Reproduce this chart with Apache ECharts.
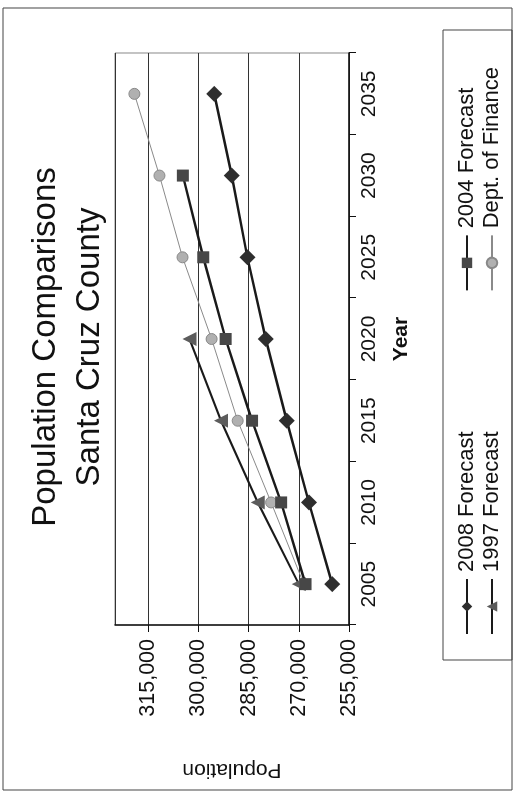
<!DOCTYPE html>
<html><head><meta charset="utf-8">
<script src="https://cdn.jsdelivr.net/npm/echarts@6/dist/echarts.min.js"></script>
<style>
html,body{margin:0;padding:0;width:515px;height:805px;overflow:hidden;background:#fff;}
#chart{position:absolute;left:0;top:0;width:805px;height:515px;transform-origin:0 0;transform:translate(0,805px) rotate(-90deg);}
</style></head><body><div id="chart"></div>
<script>
const years = ['2005', '2010', '2015', '2020', '2025', '2030', '2035'];
const forecast2008 = [260000, 267000, 273600, 279900, 285400, 290100, 295300];
const forecast2004 = [268000, 275300, 284000, 291900, 298600, 304700, null];
const forecast1997 = [270000, 282300, 293300, 302700, null, null, null];
const deptFinance = [268500, 278300, 288300, 296100, 304800, 311700, 319200];
const titleLines = ['Population Comparisons', 'Santa Cruz County'];

const FONT = '"Liberation Sans", Arial, sans-serif';
const chart = echarts.init(document.getElementById('chart'), null, {renderer: 'canvas'});
const fmt = v => v.toLocaleString('en-US');

chart.setOption({
  animation: false,
  backgroundColor: '#fff',
  textStyle: {fontFamily: FONT},
  grid: {left: 180, right: 53, top: 115, bottom: 166, show: true, borderColor: '#888', borderWidth: 1, backgroundColor: 'transparent'},
  graphic: [
    {type: 'rect', shape: {x: 15, y: 3, width: 782, height: 509}, style: {fill: 'none', stroke: '#444', lineWidth: 1}},
    {type: 'rect', shape: {x: 145, y: 443, width: 630, height: 69}, style: {fill: 'none', stroke: '#444', lineWidth: 1}},
    {type: 'text', x: 458, y: 46, style: {text: titleLines[0], fontSize: 33, fontFamily: FONT, fill: '#111', align: 'center', verticalAlign: 'middle'}},
    {type: 'text', x: 458, y: 90, style: {text: titleLines[1], fontSize: 33, fontFamily: FONT, fill: '#111', align: 'center', verticalAlign: 'middle'}}
  ],
  legend: [
    {data: ['2008 Forecast', '2004 Forecast'], left: 165, top: 451, itemGap: 140, itemWidth: 55, itemHeight: 13,
     textStyle: {fontSize: 22, color: '#111', fontFamily: FONT, padding: [0, 0, 0, 2]}},
    {data: ['1997 Forecast', 'Dept. of Finance'], left: 165, top: 476, itemGap: 140, itemWidth: 55, itemHeight: 13,
     textStyle: {fontSize: 22, color: '#111', fontFamily: FONT, padding: [0, 0, 0, 2]}}
  ],
  xAxis: {
    type: 'category', data: years, boundaryGap: true,
    name: 'Year', nameLocation: 'middle', nameGap: 42,
    nameTextStyle: {fontSize: 21, fontWeight: 'bold', color: '#111', fontFamily: FONT},
    axisLine: {lineStyle: {color: '#111', width: 1.5}},
    axisTick: {show: true, length: 7, interval: 0, lineStyle: {color: '#111'}},
    axisLabel: {fontSize: 21, color: '#111', margin: 10, interval: 0, fontFamily: FONT}
  },
  yAxis: {
    type: 'value', min: 255000, max: 325000, interval: 15000,
    name: 'Population', nameLocation: 'middle', nameGap: 134,
    nameTextStyle: {fontSize: 21, color: '#111', fontFamily: FONT},
    axisLine: {show: true, lineStyle: {color: '#111', width: 1.5}},
    axisTick: {show: true, length: 7, lineStyle: {color: '#111'}},
    axisLabel: {fontSize: 21.5, color: '#111', margin: 14, showMaxLabel: false, formatter: fmt, fontFamily: FONT},
    splitLine: {show: true, lineStyle: {color: '#333', width: 1}}
  },
  series: [
    {name: '2008 Forecast', type: 'line', data: forecast2008, symbol: 'diamond', symbolSize: 16,
     itemStyle: {color: '#2e2e2e'}, lineStyle: {color: '#1a1a1a', width: 2.5}, z: 4},
    {name: '2004 Forecast', type: 'line', data: forecast2004, symbol: 'rect', symbolSize: 12,
     itemStyle: {color: '#474747'}, lineStyle: {color: '#1a1a1a', width: 2.5}, z: 3},
    {name: '1997 Forecast', type: 'line', data: forecast1997, symbol: 'triangle', symbolSize: 14,
     itemStyle: {color: '#5c5c5c'}, lineStyle: {color: '#1a1a1a', width: 2}, z: 2},
    {name: 'Dept. of Finance', type: 'line', data: deptFinance, symbol: 'circle', symbolSize: 11,
     itemStyle: {color: '#b0b0b0', borderColor: '#888', borderWidth: 1}, lineStyle: {color: '#8a8a8a', width: 1}, z: 1}
  ]
});
</script></body></html>
